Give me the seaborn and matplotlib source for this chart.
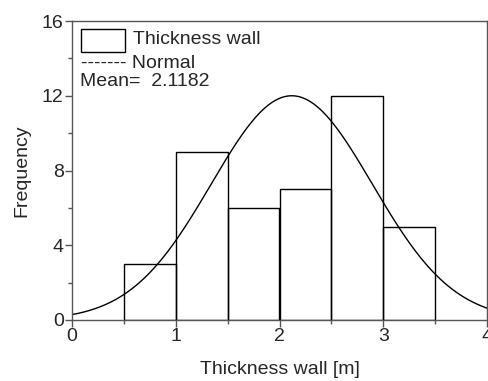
import numpy as np
import matplotlib
matplotlib.use("Agg")
import matplotlib.pyplot as plt
import seaborn as sns
from matplotlib.patches import Rectangle

# Data
bin_edges = [0.5, 1.0, 1.5, 2.0, 2.5, 3.0, 3.5]
bin_centers = [0.75, 1.25, 1.75, 2.25, 2.75, 3.25]
counts = [3, 9, 6, 7, 12, 5]
fit_mean = 2.1182
fit_sd = 0.776
fit_peak = 12.0
x_ticks = [0, 1, 2, 3, 4]
y_ticks = [0, 4, 8, 12, 16]

sns.set_theme(style="white")
plt.rcParams['font.family'] = ['Liberation Sans', 'DejaVu Sans']

fig = plt.figure(figsize=(4.89, 3.81), dpi=100)
ax = fig.add_axes([72/489, (381-320)/381, 415/489, 299/381])

sns.histplot(x=bin_centers, weights=counts, bins=bin_edges, fill=False,
             color='black', linewidth=1.0, ax=ax, element='bars')

xs = np.linspace(0, 4, 400)
ys = fit_peak * np.exp(-0.5 * ((xs - fit_mean) / fit_sd) ** 2)
sns.lineplot(x=xs, y=ys, color='black', linewidth=1.0, ax=ax)

ax.set_xlim(0, 4)
ax.set_ylim(0, 16)
ax.set_xticks(x_ticks)
ax.set_yticks(y_ticks)
ax.set_xticks([0.5, 1.5, 2.5, 3.5], minor=True)
ax.set_yticks([2, 6, 10, 14], minor=True)
ax.tick_params(axis='both', which='major', direction='out', length=5, width=1,
               color='#555555', labelsize=14, pad=1, bottom=True, left=True)
ax.tick_params(axis='both', which='minor', direction='out', length=3, width=1,
               color='#555555', bottom=True, left=True)
for s in ax.spines.values():
    s.set_color('#555555')
    s.set_linewidth(1.0)

ax.set_xlabel('Thickness wall [m]', fontsize=14, labelpad=11)
ax.set_ylabel('Frequency', fontsize=14, labelpad=8)

# legend
ax.add_patch(Rectangle((9/415, 1 - 31/299), 44/415, 23/299, transform=ax.transAxes,
                       fill=False, edgecolor='black', linewidth=1.0))
ax.text(61/415, 1 - 19/299, 'Thickness wall', transform=ax.transAxes,
        fontsize=14, va='center', ha='left')
ax.text(9/415, 1 - 42/299, '------- Normal', transform=ax.transAxes,
        fontsize=14, va='center', ha='left')
ax.text(8/415, 1 - 60/299, 'Mean=  2.1182', transform=ax.transAxes,
        fontsize=14, va='center', ha='left')

fig.savefig('out.png', dpi=100)
